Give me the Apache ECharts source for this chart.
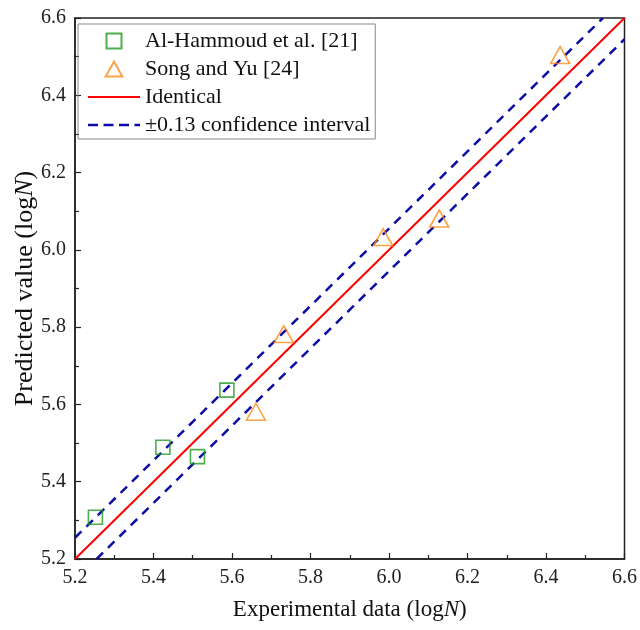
<!DOCTYPE html>
<html>
<head>
<meta charset="utf-8">
<script src="https://cdn.jsdelivr.net/npm/echarts@6/dist/echarts.min.js"></script>
<style>html,body{margin:0;padding:0;background:#fff;}#c{width:640px;height:630px;}</style>
</head>
<body>
<div id="c"></div>
<script>
const alHammoud = [[5.252, 5.308], [5.424, 5.489], [5.512, 5.465], [5.587, 5.637]];
const songYu = [[5.661, 5.581], [5.732, 5.782], [5.985, 6.033], [6.128, 6.081], [6.436, 6.504]];
const identical = [[5.2, 5.2], [6.6, 6.6]];
const upperBound = [[5.2, 5.255], [6.545, 6.6]];
const lowerBound = [[5.255, 5.2], [6.6, 6.545]];
const names = ['Al-Hammoud et al. [21]', 'Song and Yu [24]', 'Identical', '±0.13 confidence interval'];

const font = '"Liberation Serif", "Times New Roman", serif';
const chart = echarts.init(document.getElementById('c'));
const axisCommon = {
  min: 5.2, max: 6.6, interval: 0.2,
  axisLine: { show: true, onZero: false, lineStyle: { color: '#222', width: 1.5 } },
  axisTick: { show: true, inside: true, length: 6, lineStyle: { color: '#222', width: 1.2 } },
  minorTick: { show: true, splitNumber: 2, length: 4, lineStyle: { color: '#222', width: 1.2 } },
  splitLine: { show: false },
  axisLabel: { color: '#222', fontSize: 20, fontFamily: font, formatter: v => v.toFixed(1), margin: 9 },
  nameLocation: 'middle',
  nameMoveOverlap: false
};
const nameStyle = (size) => ({ color: '#111', fontSize: size, fontFamily: font, rich: { i: { fontStyle: 'italic', fontSize: size, fontFamily: font, color: '#111' } } });
const dashIcon = 'path://M0,0h10v2.6h-10z M15.5,0h10v2.6h-10z M31,0h10v2.6h-10z M46.5,0h5.5v2.6h-5.5z';
chart.setOption({
  animation: false,
  backgroundColor: '#fff',
  grid: { left: 75, right: 12, top: 18, bottom: 71, show: true, borderColor: '#222', borderWidth: 1.5 },
  xAxis: Object.assign({}, axisCommon, { type: 'value', name: 'Experimental data (log{i|N})', nameGap: 39, nameTextStyle: nameStyle(23) }),
  yAxis: Object.assign({}, axisCommon, { type: 'value', name: 'Predicted value (log{i|N})', nameGap: 37, nameTextStyle: nameStyle(26) }),
  legend: {
    orient: 'vertical', left: 78, top: 24,
    data: [
      { name: names[0], icon: 'path://M0,0h10v10h-10z' },
      { name: names[1], icon: 'path://M5,0L10,9L0,9z' },
      { name: names[2], icon: 'path://M0,0h52v2h-52z', itemStyle: { color: '#ff0000', borderWidth: 0 } },
      { name: names[3], icon: dashIcon, itemStyle: { color: '#0c0ca8', borderWidth: 0 } }
    ],
    symbolKeepAspect: true,
    itemWidth: 52, itemHeight: 15, itemGap: 6,
    borderColor: '#888', borderWidth: 1, padding: [6, 5, 3, 10],
    textStyle: { fontSize: 22, fontFamily: font, color: '#111' }
  },
  series: [
    { name: names[2], type: 'line', data: identical, symbol: 'none', lineStyle: { color: '#ff0000', width: 2 }, itemStyle: { color: '#ff0000' }, z: 2 },
    { name: names[3], type: 'line', data: upperBound, symbol: 'none', lineStyle: { color: '#0c0ca8', width: 2.5, type: [9, 7] }, itemStyle: { color: '#0c0ca8' }, z: 2 },
    { name: names[3], type: 'line', data: lowerBound, symbol: 'none', lineStyle: { color: '#0c0ca8', width: 2.5, type: [9, 7] }, itemStyle: { color: '#0c0ca8' }, z: 2 },
    { name: names[0], type: 'scatter', data: alHammoud, symbol: 'rect', symbolSize: 14, itemStyle: { color: 'rgba(255,255,255,0)', borderColor: '#1f9a1f', borderWidth: 1.6 }, z: 3 },
    { name: names[1], type: 'scatter', data: songYu, symbol: 'triangle', symbolSize: [19, 17], itemStyle: { color: 'rgba(255,255,255,0)', borderColor: '#ff8c1a', borderWidth: 1.6 }, z: 3 }
  ]
});
</script>
</body>
</html>
